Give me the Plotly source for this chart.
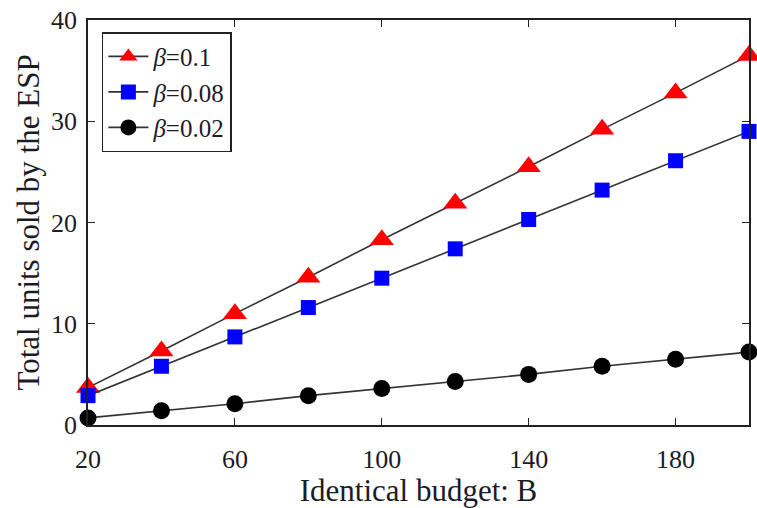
import plotly.graph_objects as go

budget = [20, 40, 60, 80, 100, 120, 140, 160, 180, 200]
beta_01 = [3.7, 7.3, 11.0, 14.6, 18.3, 21.9, 25.5, 29.2, 32.8, 36.5]
beta_008 = [2.9, 5.8, 8.7, 11.6, 14.5, 17.4, 20.3, 23.2, 26.1, 29.0]
beta_002 = [0.7, 1.4, 2.1, 2.9, 3.6, 4.3, 5.0, 5.8, 6.5, 7.2]
series_names = ["<i>β</i>=0.1", "<i>β</i>=0.08", "<i>β</i>=0.02"]
x_ticks = [20, 60, 100, 140, 180]
y_ticks = [0, 10, 20, 30, 40]

fig = go.Figure()
styles = [
    (beta_01, "triangle-up", "#ff0000", 21),
    (beta_008, "square", "#0000ff", 15),
    (beta_002, "circle", "#000000", 17),
]
for (vals, sym, col, sz), name in zip(styles, series_names):
    fig.add_trace(go.Scatter(
        x=budget, y=vals, name=name, mode="lines+markers",
        line=dict(color="#333333", width=1.6),
        marker=dict(symbol=sym, color=col, size=sz, line=dict(width=0)),
        cliponaxis=False,
    ))

serif = "Liberation Serif, Times New Roman, serif"
txt = "#1c1c28"
fig.update_layout(
    width=757, height=508,
    margin=dict(l=88, r=8, t=20, b=83),
    paper_bgcolor="white", plot_bgcolor="white",
    font=dict(family=serif, size=26, color=txt),
    showlegend=True,
    legend=dict(
        x=0.021, y=0.97, xanchor="left", yanchor="top",
        bordercolor="#222222", borderwidth=1.5, bgcolor="white",
        font=dict(family=serif, size=25, color=txt),
        tracegroupgap=0, itemwidth=40,
    ),
)
fig.update_xaxes(
    range=[20, 200], tickvals=x_ticks, ticks="inside", ticklen=7, tickwidth=1.2,
    tickcolor="#222222", showline=True, linecolor="#222222", linewidth=1.5,
    mirror="ticks", showgrid=False, zeroline=False, automargin=False,
    ticklabelstandoff=10,
    title=dict(text="Identical budget: B", standoff=4, font=dict(size=31)),
    tickfont=dict(size=26),
)
fig.update_yaxes(
    range=[0, 40], tickvals=y_ticks, ticks="inside", ticklen=7, tickwidth=1.2,
    tickcolor="#222222", showline=True, linecolor="#222222", linewidth=1.5,
    mirror="ticks", showgrid=False, zeroline=False, automargin=False,
    ticklabelstandoff=4,
    title=dict(text="Total units sold by the ESP", standoff=2, font=dict(size=31)),
    tickfont=dict(size=26),
)
fig.write_html("out.html")
